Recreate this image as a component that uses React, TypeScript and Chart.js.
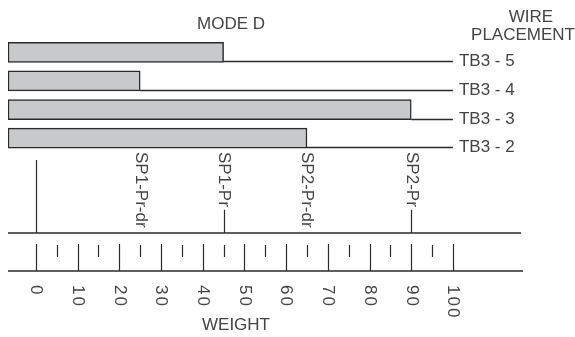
import React, { useEffect, useRef } from "react";
import { Chart, registerables } from "chart.js";

Chart.register(...registerables);

const categories = ["TB3 - 5", "TB3 - 4", "TB3 - 3", "TB3 - 2"];
const weights = [45, 25, 90, 65];
const markerLabels = ["SP1-Pr-dr", "SP1-Pr", "SP2-Pr-dr", "SP2-Pr"];
const markerValues = [25, 45, 65, 90];
const majorTicks = [0, 10, 20, 30, 40, 50, 60, 70, 80, 90, 100];
const minorTicks = [5, 15, 25, 35, 45, 55, 65, 75, 85, 95];
const zeroLineValue = 0;
const wireEndValue = 100;
const axisMin = -6.7;
const axisMax = 116.8;
const titleText = "MODE D";
const legendTitle = ["WIRE", "PLACEMENT"];
const axisTitle = "WEIGHT";

const FONT = "17px 'Liberation Sans', Arial, sans-serif";
const TEXT = "#444444";
const LINE = "#2a2a2a";

const drawPlugin = {
  id: "wireDiagram",
  afterDraw(chart: any) {
    const ctx = chart.ctx as CanvasRenderingContext2D;
    const xs = chart.scales.x;
    const area = chart.chartArea;
    const px = (v: number) => xs.getPixelForValue(v);
    ctx.save();
    ctx.fillStyle = TEXT;
    ctx.strokeStyle = LINE;
    ctx.font = FONT;

    // title
    ctx.textAlign = "center";
    ctx.textBaseline = "middle";
    ctx.fillText(titleText, 231, 24);
    ctx.fillText(legendTitle[0], 531, 17);
    ctx.fillText(legendTitle[1], 523, 35);

    // lines from bar ends to labels
    const meta = chart.getDatasetMeta(0);
    const endX = px(wireEndValue);
    ctx.lineWidth = 1.5;
    meta.data.forEach((el: any, i: number) => {
      const p = el.getProps(["x", "y", "height"], true);
      const yb = Math.round(p.y + p.height / 2) - 0.5;
      ctx.beginPath();
      ctx.moveTo(p.x, yb);
      ctx.lineTo(endX, yb);
      ctx.stroke();
      ctx.textAlign = "left";
      ctx.textBaseline = "middle";
      ctx.fillText(categories[i], endX + 6, yb);
    });

    const rulerTop = 233;
    const rulerBottom = 271;

    // ruler lines
    ctx.lineWidth = 1.5;
    ctx.beginPath();
    ctx.moveTo(area.left, rulerTop);
    ctx.lineTo(area.right - 2, rulerTop);
    ctx.moveTo(area.left, rulerBottom);
    ctx.lineTo(area.right, rulerBottom);
    ctx.stroke();

    // ticks
    ctx.lineWidth = 1.2;
    majorTicks.forEach((v) => {
      const x = Math.round(px(v)) + 0.5;
      ctx.beginPath();
      ctx.moveTo(x, 244);
      ctx.lineTo(x, rulerBottom);
      ctx.stroke();
    });
    minorTicks.forEach((v) => {
      const x = Math.round(px(v)) + 0.5;
      ctx.beginPath();
      ctx.moveTo(x, 245);
      ctx.lineTo(x, 257);
      ctx.stroke();
    });

    // tick labels rotated clockwise
    majorTicks.forEach((v) => {
      const x = px(v);
      ctx.save();
      ctx.translate(x, 285);
      ctx.rotate(Math.PI / 2);
      ctx.textAlign = "left";
      ctx.textBaseline = "middle";
      (ctx as any).letterSpacing = "2px";
      ctx.fillText(String(v), 0, 0);
      ctx.restore();
    });

    // axis title
    ctx.textAlign = "center";
    ctx.textBaseline = "middle";
    ctx.fillText(axisTitle, 236, 325);

    // zero line
    ctx.lineWidth = 1.2;
    const zx = Math.round(px(zeroLineValue)) + 0.5;
    ctx.beginPath();
    ctx.moveTo(zx, 160);
    ctx.lineTo(zx, rulerTop);
    ctx.stroke();

    // markers
    markerLabels.forEach((lab, i) => {
      const x = px(markerValues[i]);
      ctx.save();
      ctx.translate(x, 152);
      ctx.rotate(Math.PI / 2);
      ctx.textAlign = "left";
      ctx.textBaseline = "middle";
      ctx.fillText(lab, 0, 0);
      ctx.restore();
      const w = ctx.measureText(lab).width;
      const start = 152 + w + 3;
      if (start < rulerTop - 4) {
        const lx = Math.round(x) + 0.5;
        ctx.beginPath();
        ctx.moveTo(lx, start);
        ctx.lineTo(lx, rulerTop);
        ctx.stroke();
      }
    });

    ctx.restore();
  },
};

export default function App() {
  const ref = useRef<HTMLCanvasElement | null>(null);
  useEffect(() => {
    if (!ref.current) return;
    const chart = new Chart(ref.current, {
      type: "bar",
      data: {
        labels: categories,
        datasets: [
          {
            data: weights.map((w) => [axisMin, w]) as any,
            backgroundColor: "#c8c9cb",
            borderColor: LINE,
            borderWidth: 1.5,
            borderSkipped: false,
            barThickness: 20,
          },
        ],
      },
      options: {
        indexAxis: "y",
        responsive: false,
        devicePixelRatio: 1,
        animation: false,
        layout: { padding: { left: 8, right: 52, top: 38, bottom: 184.5 } },
        plugins: {
          legend: { display: false },
          tooltip: { enabled: false },
          title: { display: false },
        },
        scales: {
          x: { type: "linear", min: axisMin, max: axisMax, display: false },
          y: { type: "category", display: false, offset: true },
        },
      },
      plugins: [drawPlugin],
    });
    return () => chart.destroy();
  }, []);
  return (
    <div style={{ position: "absolute", left: 0, top: 0, width: 575, height: 337, background: "#fff" }}>
      <canvas ref={ref} width={575} height={337} style={{ display: "block" }} />
    </div>
  );
}
